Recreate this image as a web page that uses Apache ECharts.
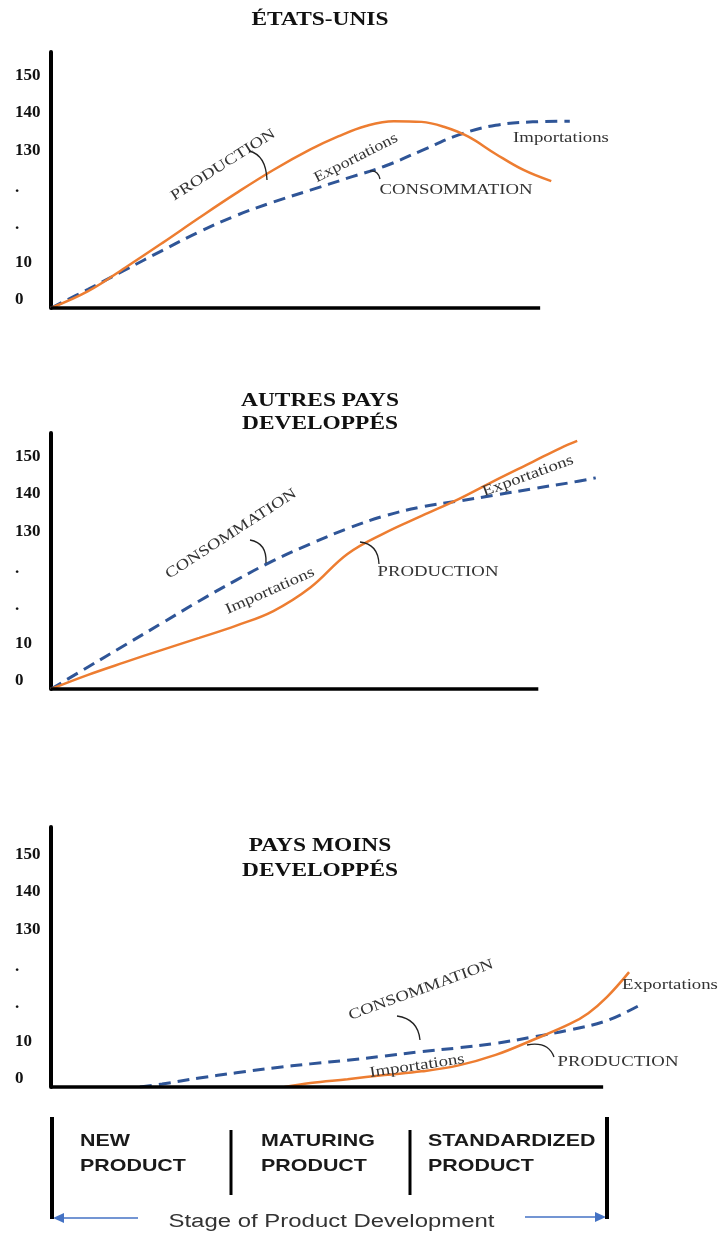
<!DOCTYPE html>
<html><head><meta charset="utf-8">
<script src="https://cdn.jsdelivr.net/npm/echarts@6/dist/echarts.min.js"></script>
<style>html,body{margin:0;padding:0;background:#fff}#c{width:723px;height:1237px}</style>
</head><body><div id="c"></div>
<script>
// ---- data (x in product-stage units, y in axis-level units) ----
const yTickLabels = ['0', '10', '.', '.', '130', '140', '150'];
const panelTitles = ['ÉTATS-UNIS', 'AUTRES PAYS\nDEVELOPPÉS', 'PAYS MOINS\nDEVELOPPÉS'];
const stageLabels = ['NEW\nPRODUCT', 'MATURING\nPRODUCT', 'STANDARDIZED\nPRODUCT'];
const stageAxisTitle = 'Stage of Product Development';
const seriesNames = ['PRODUCTION', 'CONSOMMATION'];

const usProduction = [[0,0],[0.2,0.45],[0.4,1.08],[0.6,1.74],[0.8,2.42],[1.0,3.08],[1.2,3.70],[1.4,4.25],[1.55,4.60],[1.7,4.88],[1.85,5.01],[2.0,4.99],[2.12,4.86],[2.25,4.60],[2.4,4.13],[2.55,3.70],[2.70,3.40]];
const usConsumption = [[0,0],[0.2,0.50],[0.4,1.02],[0.6,1.54],[0.8,2.04],[1.0,2.48],[1.2,2.84],[1.4,3.16],[1.6,3.48],[1.8,3.80],[2.0,4.22],[2.2,4.64],[2.4,4.90],[2.6,4.99],[2.8,5.01]];

const devProduction = [[0,0],[0.2,0.38],[0.4,0.72],[0.6,1.05],[0.8,1.37],[1.0,1.70],[1.2,2.09],[1.4,2.72],[1.6,3.62],[1.8,4.18],[2.0,4.64],[2.2,5.09],[2.4,5.60],[2.6,6.09],[2.75,6.46],[2.84,6.65]];
const devConsumption = [[0,0],[0.2,0.59],[0.4,1.18],[0.6,1.77],[0.8,2.36],[1.0,2.92],[1.2,3.44],[1.4,3.89],[1.6,4.30],[1.8,4.64],[2.0,4.88],[2.2,5.04],[2.4,5.20],[2.6,5.37],[2.8,5.53],[2.94,5.66]];

const ldcProduction = [[1.26,0],[1.4,0.11],[1.6,0.21],[1.8,0.32],[2.0,0.42],[2.2,0.58],[2.4,0.86],[2.6,1.26],[2.8,1.69],[2.9,1.98],[3.0,2.41],[3.12,3.08]];
const ldcConsumption = [[0.48,0],[0.6,0.08],[0.8,0.24],[1.0,0.38],[1.2,0.51],[1.4,0.62],[1.6,0.72],[1.8,0.83],[2.0,0.95],[2.2,1.05],[2.4,1.17],[2.6,1.34],[2.8,1.53],[3.0,1.78],[3.18,2.20]];

const xAxisEnds = [2.64, 2.63, 2.98];

// ---- layout ----
const PX_PER_LEVEL = 37.3;
const grids = [
  {left: 51, top: 52, width: 648.5, height: 256},
  {left: 51, top: 433, width: 648.5, height: 256},
  {left: 51, top: 827, width: 648.5, height: 260}
];
const panels = [
  [usProduction, usConsumption],
  [devProduction, devConsumption],
  [ldcProduction, ldcConsumption]
];
const ORANGE = '#ED7D31', BLUE = '#2F5597';

const xAxes = [], yAxes = [], series = [];
grids.forEach((g, i) => {
  xAxes.push({gridIndex: i, type: 'value', min: 0, max: 3.5, show: false});
  yAxes.push({
    gridIndex: i, type: 'value', min: 0, max: g.height / PX_PER_LEVEL, interval: 1,
    axisLine: {show: true, onZero: false, lineStyle: {color: '#000', width: 4}},
    axisTick: {show: false}, splitLine: {show: false},
    axisLabel: {
      show: true, align: 'left', verticalAlign: 'bottom', margin: 36,
      fontFamily: 'Liberation Serif', fontWeight: 'bold', fontSize: 17, color: '#111',
      formatter: v => {
        const r = Math.round(v);
        return Math.abs(v - r) < 1e-6 && yTickLabels[r] !== undefined ? yTickLabels[r] : '';
      }
    }
  });
  series.push({
    name: seriesNames[0], type: 'line', xAxisIndex: i, yAxisIndex: i,
    data: panels[i][0], smooth: 0.4, showSymbol: false, symbol: 'none',
    lineStyle: {color: ORANGE, width: 2.5}, itemStyle: {color: ORANGE}, z: 3,
    markLine: {
      silent: true, symbol: ['none', 'none'], label: {show: false},
      lineStyle: {color: '#000', width: 3.5, type: 'solid'},
      emphasis: {disabled: true},
      data: [[{coord: [0, 0]}, {coord: [xAxisEnds[i], 0]}]]
    }
  });
  series.push({
    name: seriesNames[1], type: 'line', xAxisIndex: i, yAxisIndex: i,
    data: panels[i][1], smooth: 0.4, showSymbol: false, symbol: 'none',
    lineStyle: {color: BLUE, width: 3, type: [12, 7]}, itemStyle: {color: BLUE}, z: 2
  });
});

// ---- annotations ----
function txt(x, y, text, font, opts) {
  opts = opts || {};
  const al = opts.align || 'center';
  return {
    type: 'text', x: x, y: y, silent: true,
    rotation: (opts.rot || 0) * Math.PI / 180,
    scaleX: opts.sx || 1, z: 50,
    style: {
      text: text, font: font, fill: opts.color || '#333',
      align: al, textAlign: al, verticalAlign: 'middle', textVerticalAlign: 'middle',
      lineHeight: opts.lh || undefined
    }
  };
}
function curve(x1, y1, cx, cy, x2, y2) {
  return {type: 'bezierCurve', silent: true, z: 50,
    shape: {x1: x1, y1: y1, cpx1: cx, cpy1: cy, x2: x2, y2: y2},
    style: {stroke: '#222', lineWidth: 1.3, fill: null}};
}
function vline(x, y1, y2, w) {
  return {type: 'line', silent: true, z: 50, shape: {x1: x, y1: y1, x2: x, y2: y2}, style: {stroke: '#000', lineWidth: w}};
}

const TITLE_FONT = 'bold 18px "Liberation Serif"';
const ANN_FONT = '15px "Liberation Serif"';
const graphic = [
  txt(320, 20, panelTitles[0], TITLE_FONT, {color: '#111', sx: 1.3}),
  txt(320, 412.5, panelTitles[1], TITLE_FONT, {color: '#111', sx: 1.3, lh: 23}),
  txt(320, 858.5, panelTitles[2], TITLE_FONT, {color: '#111', sx: 1.3, lh: 25}),

  // panel 1
  txt(223, 165, 'PRODUCTION', ANN_FONT, {rot: 32.5, sx: 1.25}),
  curve(249, 151, 266, 155, 267, 180),
  txt(356, 158, 'Exportations', ANN_FONT, {rot: 27, sx: 1.2}),
  txt(456, 190, 'CONSOMMATION', ANN_FONT, {sx: 1.25}),
  curve(370, 171, 378, 170, 380, 179),
  txt(561, 138, 'Importations', ANN_FONT, {sx: 1.25}),

  // panel 2
  txt(231, 534, 'CONSOMMATION', ANN_FONT, {rot: 33, sx: 1.25}),
  curve(250, 540, 267, 543, 266, 563),
  txt(270, 591, 'Importations', ANN_FONT, {rot: 24, sx: 1.25}),
  txt(438, 572, 'PRODUCTION', ANN_FONT, {sx: 1.25}),
  curve(360, 542, 378, 544, 379, 564),
  txt(528, 476, 'Exportations', ANN_FONT, {rot: 20, sx: 1.25}),

  // panel 3
  txt(421, 990, 'CONSOMMATION', ANN_FONT, {rot: 20, sx: 1.25}),
  curve(397, 1016, 418, 1019, 420, 1040),
  txt(417, 1066, 'Importations', ANN_FONT, {rot: 8.5, sx: 1.25}),
  txt(618, 1062, 'PRODUCTION', ANN_FONT, {sx: 1.25}),
  curve(527, 1045, 548, 1041, 554, 1057),
  txt(670, 985, 'Exportations', ANN_FONT, {sx: 1.25}),

  // stage bar
  vline(52, 1117, 1219, 4),
  vline(607, 1117, 1219, 4),
  vline(231, 1130, 1195, 3),
  vline(410, 1130, 1195, 3),
  txt(80, 1153.5, stageLabels[0], 'bold 17px "Liberation Sans"', {align: 'left', sx: 1.26, lh: 25, color: '#1a1a1a'}),
  txt(261, 1153.5, stageLabels[1], 'bold 17px "Liberation Sans"', {align: 'left', sx: 1.26, lh: 25, color: '#1a1a1a'}),
  txt(428, 1153.5, stageLabels[2], 'bold 17px "Liberation Sans"', {align: 'left', sx: 1.26, lh: 25, color: '#1a1a1a'}),
  txt(331.5, 1222, stageAxisTitle, '18px "Liberation Sans"', {sx: 1.33, color: '#333'}),
  {type: 'line', silent: true, shape: {x1: 138, y1: 1218, x2: 62, y2: 1218}, style: {stroke: '#4472C4', lineWidth: 1.5}},
  {type: 'polygon', silent: true, shape: {points: [[53, 1218], [64, 1213], [64, 1223]]}, style: {fill: '#4472C4'}},
  {type: 'line', silent: true, shape: {x1: 525, y1: 1217, x2: 597, y2: 1217}, style: {stroke: '#4472C4', lineWidth: 1.5}},
  {type: 'polygon', silent: true, shape: {points: [[606, 1217], [595, 1212], [595, 1222]]}, style: {fill: '#4472C4'}}
];

const chart = echarts.init(document.getElementById('c'), null, {renderer: 'canvas'});
chart.setOption({
  animation: false,
  backgroundColor: '#fff',
  grid: grids,
  xAxis: xAxes,
  yAxis: yAxes,
  series: series,
  graphic: graphic
});
</script>
</body></html>
